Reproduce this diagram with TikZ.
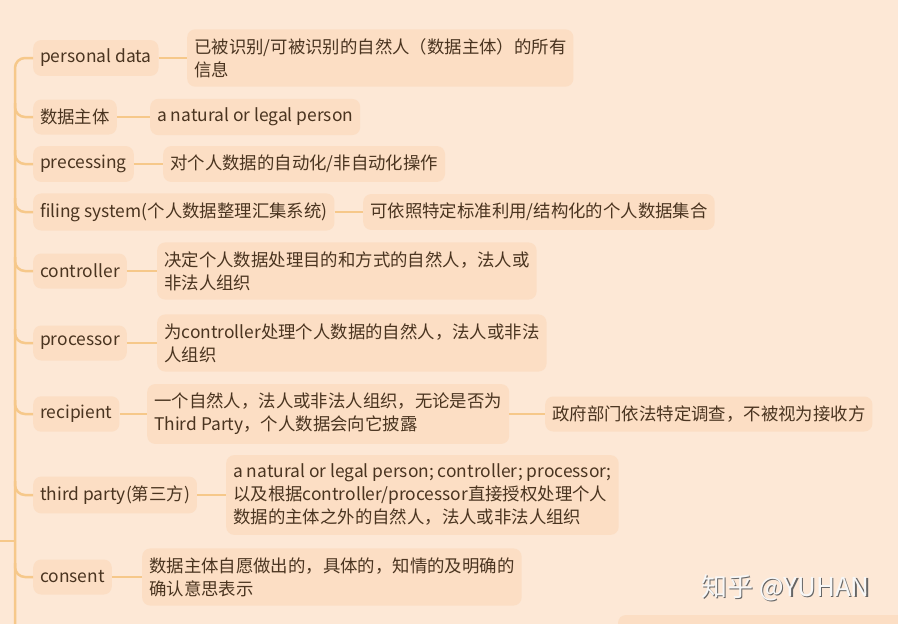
\documentclass[tikz,border=0pt]{standalone}
\usepackage{fontspec}
\setmainfont{Noto Sans CJK SC}
\usetikzlibrary{calc}
\definecolor{bgpeach}{HTML}{FDE8D6}
\definecolor{keyfill}{HTML}{FCDEC4}
\definecolor{linkorange}{HTML}{F6C88A}
\definecolor{inkbrown}{HTML}{4A3420}
\begin{document}
\begin{tikzpicture}[x=1pt,y=-1pt,
  key/.style={anchor=west, fill=keyfill, rounded corners=8pt, text=inkbrown,
    inner xsep=7pt, inner ysep=9pt, minimum height=35pt, align=left,
    font=\fontsize{17.4}{23}\selectfont},
  link/.style={draw=linkorange, line width=2.5pt},
  branch/.style={link, rounded corners=10pt}]
\fill [bgpeach] (0,0) rectangle (898,624);
\useasboundingbox (0,0) rectangle (898,624);
\coordinate (trunkend) at (15,640);
\coordinate (root) at (0,541);

\node [key] (pd) at (33,58) {personal data};
\node [key] (pdd) at (187,58) {已被识别/可被识别的自然人（数据主体）的所有\\信息};
\node [key] (subj) at (33,117) {数据主体};
\node [key] (subjd) at (150,117) {a natural or legal person};
\node [key] (proc) at (33,164) {precessing};
\node [key] (procd) at (163,164) {对个人数据的自动化/非自动化操作};
\node [key] (fs) at (33,212) {filing system(个人数据整理汇集系统)};
\node [key] (fsd) at (363,212) {可依照特定标准利用/结构化的个人数据集合};
\node [key] (ctrl) at (33,271) {controller};
\node [key] (ctrld) at (157,271) {决定个人数据处理目的和方式的自然人，法人或\\非法人组织};
\node [key] (pro) at (33,343) {processor};
\node [key] (prod) at (157,343) {为controller处理个人数据的自然人，法人或非法\\人组织};
\node [key] (rec) at (33,414) {recipient};
\node [key] (recd) at (147,414) {一个自然人，法人或非法人组织，无论是否为\\Third Party，个人数据会向它披露};
\node [key] (recn) at (545,414) {政府部门依法特定调查，不被视为接收方};
\node [key] (tp) at (33,495) {third party(第三方)};
\node [key] (tpd) at (226,495) {a natural or legal person; controller; processor;\\以及根据controller/processor直接授权处理个人\\数据的主体之外的自然人，法人或非法人组织};
\node [key] (cons) at (33,577) {consent};
\node [key] (consd) at (142,577) {数据主体自愿做出的，具体的，知情的及明确的\\确认意思表示};
\fill [keyfill, rounded corners=8pt] (618,615) rectangle (930,660);

% trunk and branches
\draw [branch] (pd.west) -| (trunkend);
\foreach \k in {subj,proc,fs,ctrl,pro,rec,tp,cons}
  \draw [branch] ($(trunkend |- \k.west)+(0,-14)$) |- (\k.west);
\draw [link] (root) -- (trunkend |- root);
\foreach \a/\b in {pd/pdd,subj/subjd,proc/procd,fs/fsd,ctrl/ctrld,pro/prod,rec/recd,recd/recn,tp/tpd,cons/consd}
  \draw [link] (\a.east) -- (\b.west);

\node [text=gray!80!black, font=\fontsize{26}{26}\selectfont] (wmshade) at (787,589) {知乎 @YUHAN};
\node [text=white!94!gray, font=\fontsize{26}{26}\selectfont] (wm) at (785.5,587.5) {知乎 @YUHAN};
\end{tikzpicture}
\end{document}
